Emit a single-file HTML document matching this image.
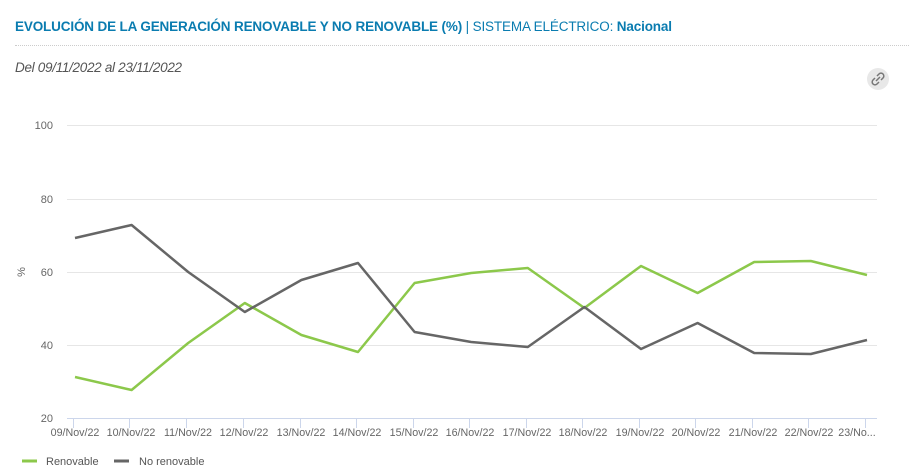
<!DOCTYPE html>
<html><head><meta charset="utf-8"><style>
body{margin:0;background:#fff;width:909px;height:471px;overflow:hidden;font-family:"Liberation Sans",sans-serif}
.t{position:absolute;left:15px;top:19px;font-size:13.5px;color:#0a7cb0;letter-spacing:-0.15px;white-space:nowrap}
.sep{position:absolute;left:15px;top:45px;width:894px;border-top:1px dotted #ccc}
.d{position:absolute;left:15px;top:60px;font-size:13.5px;color:#555;font-style:italic;letter-spacing:-0.3px}
.ic{position:absolute;left:867px;top:68px;width:22px;height:22px;border-radius:50%;background:#e8e8e8}
</style></head><body>
<div class="t"><b>EVOLUCIÓN DE LA GENERACIÓN RENOVABLE Y NO RENOVABLE (%)</b> | SISTEMA ELÉCTRICO: <b>Nacional</b></div>
<div class="sep"></div>
<div class="d">Del 09/11/2022 al 23/11/2022</div>
<div class="ic"><svg width="22" height="22"><g fill="none" stroke="#777" stroke-width="1.5"><path d="M9 13l4-4"/><path d="M10 8l2-2a2.5 2.5 0 0 1 4 4l-2 2"/><path d="M12 14l-2 2a2.5 2.5 0 0 1-4-4l2-2"/></g></svg></div>
<svg width="909" height="471" style="position:absolute;left:0;top:0" font-family="Liberation Sans, sans-serif">
<g stroke="#e6e6e6" stroke-width="1">
<line x1="67" x2="877" y1="125.5" y2="125.5"/><line x1="67" x2="877" y1="199.5" y2="199.5"/><line x1="67" x2="877" y1="272.5" y2="272.5"/><line x1="67" x2="877" y1="345.5" y2="345.5"/>
</g>
<line x1="67" x2="877" y1="418.5" y2="418.5" stroke="#ccd6eb"/>
<g stroke="#ccd6eb">
<line x1="73.5" x2="73.5" y1="418" y2="428"/><line x1="129.5" x2="129.5" y1="418" y2="428"/><line x1="186.5" x2="186.5" y1="418" y2="428"/><line x1="243.5" x2="243.5" y1="418" y2="428"/><line x1="300.5" x2="300.5" y1="418" y2="428"/><line x1="356.5" x2="356.5" y1="418" y2="428"/><line x1="413.5" x2="413.5" y1="418" y2="428"/><line x1="469.5" x2="469.5" y1="418" y2="428"/><line x1="526.5" x2="526.5" y1="418" y2="428"/><line x1="582.5" x2="582.5" y1="418" y2="428"/><line x1="639.5" x2="639.5" y1="418" y2="428"/><line x1="695.5" x2="695.5" y1="418" y2="428"/><line x1="752.5" x2="752.5" y1="418" y2="428"/><line x1="808.5" x2="808.5" y1="418" y2="428"/><line x1="865.5" x2="865.5" y1="418" y2="428"/>
</g>
<g font-size="11" fill="#666" text-anchor="end">
<text x="53" y="129">100</text><text x="53" y="203">80</text><text x="53" y="276">60</text><text x="53" y="349">40</text><text x="53" y="422">20</text>
</g>
<text x="25" y="272" font-size="11" fill="#666" transform="rotate(-90 25 272)" text-anchor="middle">%</text>
<g font-size="10.7" fill="#666" text-anchor="middle">
<text x="75" y="436">09/Nov/22</text><text x="131" y="436">10/Nov/22</text><text x="188" y="436">11/Nov/22</text><text x="244" y="436">12/Nov/22</text><text x="301" y="436">13/Nov/22</text><text x="357" y="436">14/Nov/22</text><text x="414" y="436">15/Nov/22</text><text x="470" y="436">16/Nov/22</text><text x="527" y="436">17/Nov/22</text><text x="583" y="436">18/Nov/22</text><text x="640" y="436">19/Nov/22</text><text x="696" y="436">20/Nov/22</text><text x="753" y="436">21/Nov/22</text><text x="809" y="436">22/Nov/22</text><text x="857" y="436">23/No...</text>
</g>
<polyline fill="none" stroke="#8cc84b" stroke-width="2.5" stroke-linejoin="round" points="75,377 131.6,390 188.2,343 244.8,303 301.4,335 358,352 414.6,283 471.2,273 527.8,268 584.4,308 641,266 697.6,293 754.2,262 810.8,261 867,275"/>
<polyline fill="none" stroke="#666" stroke-width="2.5" stroke-linejoin="round" points="75,238 131.6,225 188.2,272 244.8,312 301.4,280 358,263 414.6,332 471.2,342 527.8,347 584.4,307 641,349 697.6,323 754.2,353 810.8,354 867,340"/>
<line x1="22" x2="37" y1="461" y2="461" stroke="#8cc84b" stroke-width="3"/>
<text x="46" y="465" font-size="11" fill="#555">Renovable</text>
<line x1="114" x2="129" y1="461" y2="461" stroke="#666" stroke-width="3"/>
<text x="139" y="465" font-size="11" fill="#555">No renovable</text>
</svg>
</body></html>
